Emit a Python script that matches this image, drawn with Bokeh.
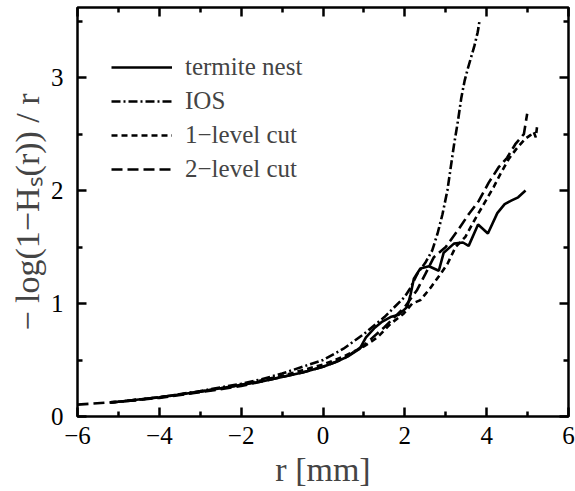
from bokeh.plotting import figure
from bokeh.models import (LinearAxis, FixedTicker, Legend, LegendItem, Range1d)
from bokeh.embed import file_html
from bokeh.resources import INLINE

# ---- data ----
termite_x = [-5.2, -5, -4.5, -4, -3.5, -3, -2.5, -2, -1.5, -1, -0.5, 0, 0.3, 0.6, 0.9, 1.05, 1.25,
             1.45, 1.65, 1.85, 2.06, 2.14, 2.22, 2.38, 2.59, 2.83, 2.95, 3.2, 3.42, 3.56, 3.79,
             4.03, 4.26, 4.44, 4.6, 4.77, 4.95]
termite_y = [0.125, 0.13, 0.15, 0.17, 0.195, 0.22, 0.25, 0.28, 0.31, 0.35, 0.39, 0.44, 0.48, 0.53,
             0.60, 0.70, 0.78, 0.84, 0.88, 0.90, 0.97, 1.08, 1.22, 1.31, 1.33, 1.29, 1.45, 1.53,
             1.54, 1.51, 1.70, 1.62, 1.80, 1.88, 1.91, 1.94, 2.0]

ios_x = [-5.2, -5, -4, -3, -2, -1.5, -1, -0.5, 0, 0.5, 1.0, 1.5, 2.0, 2.14, 2.3, 2.5, 2.67, 2.8,
         2.92, 3.04, 3.12, 3.2, 3.3, 3.38, 3.46, 3.54, 3.62, 3.7, 3.74, 3.78, 3.8, 3.82]
ios_y = [0.125, 0.13, 0.17, 0.225, 0.29, 0.33, 0.38, 0.44, 0.50, 0.60, 0.73, 0.88, 1.06, 1.14,
         1.26, 1.36, 1.47, 1.62, 1.79, 2.0, 2.2, 2.4, 2.62, 2.82, 2.97, 3.08, 3.18, 3.28, 3.34,
         3.40, 3.44, 3.49]

cut1_x = [-5.2, -5, -4, -3, -2, -1.5, -1, -0.5, 0, 0.5, 1.0, 1.33, 1.65, 1.97, 2.18, 2.38, 2.63,
          2.87, 3.04, 3.24, 3.48, 3.69, 3.93, 4.17, 4.34, 4.54, 4.75, 4.95, 5.07, 5.15, 5.2, 5.23]
cut1_y = [0.125, 0.13, 0.17, 0.22, 0.28, 0.32, 0.36, 0.41, 0.46, 0.53, 0.62, 0.70, 0.82, 0.91,
          1.0, 1.03, 1.14, 1.26, 1.35, 1.50, 1.59, 1.73, 1.88, 2.03, 2.15, 2.28, 2.38, 2.46,
          2.49, 2.52, 2.47, 2.56]

cut2_x = [-6, -5, -4, -3, -2, -1.5, -1, -0.5, 0, 0.5, 1.0, 1.5, 2.0, 2.3, 2.5, 2.71, 3.0, 3.32,
          3.56, 3.81, 4.05, 4.30, 4.50, 4.70, 4.91, 4.99]
cut2_y = [0.105, 0.13, 0.165, 0.215, 0.27, 0.31, 0.35, 0.39, 0.44, 0.51, 0.63, 0.79, 0.97, 1.12,
          1.26, 1.41, 1.50, 1.66, 1.79, 1.91, 2.07, 2.21, 2.29, 2.41, 2.50, 2.68]

series_names = ["termite nest", "IOS", "1\u2212level cut", "2\u2212level cut"]

x_ticks = [-6, -4, -2, 0, 2, 4, 6]
x_tick_labels = ["\u22126", "\u22124", "\u22122", "0", "2", "4", "6"]
x_minor = [-5, -3, -1, 1, 3, 5]
y_ticks = [0, 1, 2, 3]
y_tick_labels = ["0", "1", "2", "3"]
y_minor = [0.5, 1.5, 2.5, 3.5]
x_title = "r [mm]"
y_title = "\u2212 log(1\u2212H\u209b(r)) / r"

FONT = "Liberation Serif"
LW = 2.6

p = figure(width=575, height=491, output_backend="svg", toolbar_location=None,
           x_range=Range1d(-6, 6), y_range=Range1d(0, 3.62),
           min_border_left=77, min_border_right=7, min_border_top=7, min_border_bottom=75,
           x_axis_type=None, y_axis_type=None)
p.background_fill_color = "white"
p.border_fill_color = "white"
p.grid.visible = False
p.outline_line_color = "black"
p.outline_line_width = 2.5


def mk_axis(loc, ticks, minor, labels, show):
    ax = LinearAxis(ticker=FixedTicker(ticks=ticks, minor_ticks=minor))
    ax.axis_line_color = None
    ax.major_tick_in = 9
    ax.major_tick_out = 0
    ax.minor_tick_in = 5
    ax.minor_tick_out = 0
    ax.major_tick_line_width = 2.5
    ax.minor_tick_line_width = 2.5
    if show:
        ax.major_label_overrides = {t: s for t, s in zip(ticks, labels)}
        ax.major_label_text_font = FONT
        ax.major_label_text_font_size = "25px"
        ax.major_label_text_color = "black"
    else:
        ax.major_label_overrides = {t: "" for t in ticks}
        ax.major_label_standoff = 0
    p.add_layout(ax, loc)
    return ax


xb = mk_axis("below", x_ticks, x_minor, x_tick_labels, True)
xb.major_label_standoff = 10
xb.axis_label = x_title
xb.axis_label_text_font = FONT
xb.axis_label_text_font_size = "34px"
xb.axis_label_text_font_style = "normal"
xb.axis_label_standoff = 4

yl = mk_axis("left", y_ticks, y_minor, y_tick_labels, True)
yl.major_label_standoff = 14
yl.axis_label = y_title
yl.axis_label_text_font = FONT
yl.axis_label_text_font_size = "34px"
yl.axis_label_text_font_style = "normal"
yl.axis_label_standoff = 2

mk_axis("above", x_ticks, x_minor, x_tick_labels, False)
mk_axis("right", y_ticks, y_minor, y_tick_labels, False)

r1 = p.line(termite_x, termite_y, line_color="black", line_width=LW)
r2 = p.line(ios_x, ios_y, line_color="black", line_width=LW, line_dash="9 3 2 3")
r3 = p.line(cut1_x, cut1_y, line_color="black", line_width=LW, line_dash="6 4")
r4 = p.line(cut2_x, cut2_y, line_color="black", line_width=LW, line_dash="11 5")

legend = Legend(items=[LegendItem(label=n, renderers=[r]) for n, r in zip(series_names, [r1, r2, r3, r4])],
                location=(34, 230), padding=0, margin=0, spacing=0,
                glyph_width=61, glyph_height=34, label_height=34, label_standoff=13,
                label_text_font=FONT, label_text_font_size="25px",
                border_line_color=None, background_fill_alpha=0)
p.add_layout(legend)

open("out.html", "w").write(file_html(p, INLINE))
